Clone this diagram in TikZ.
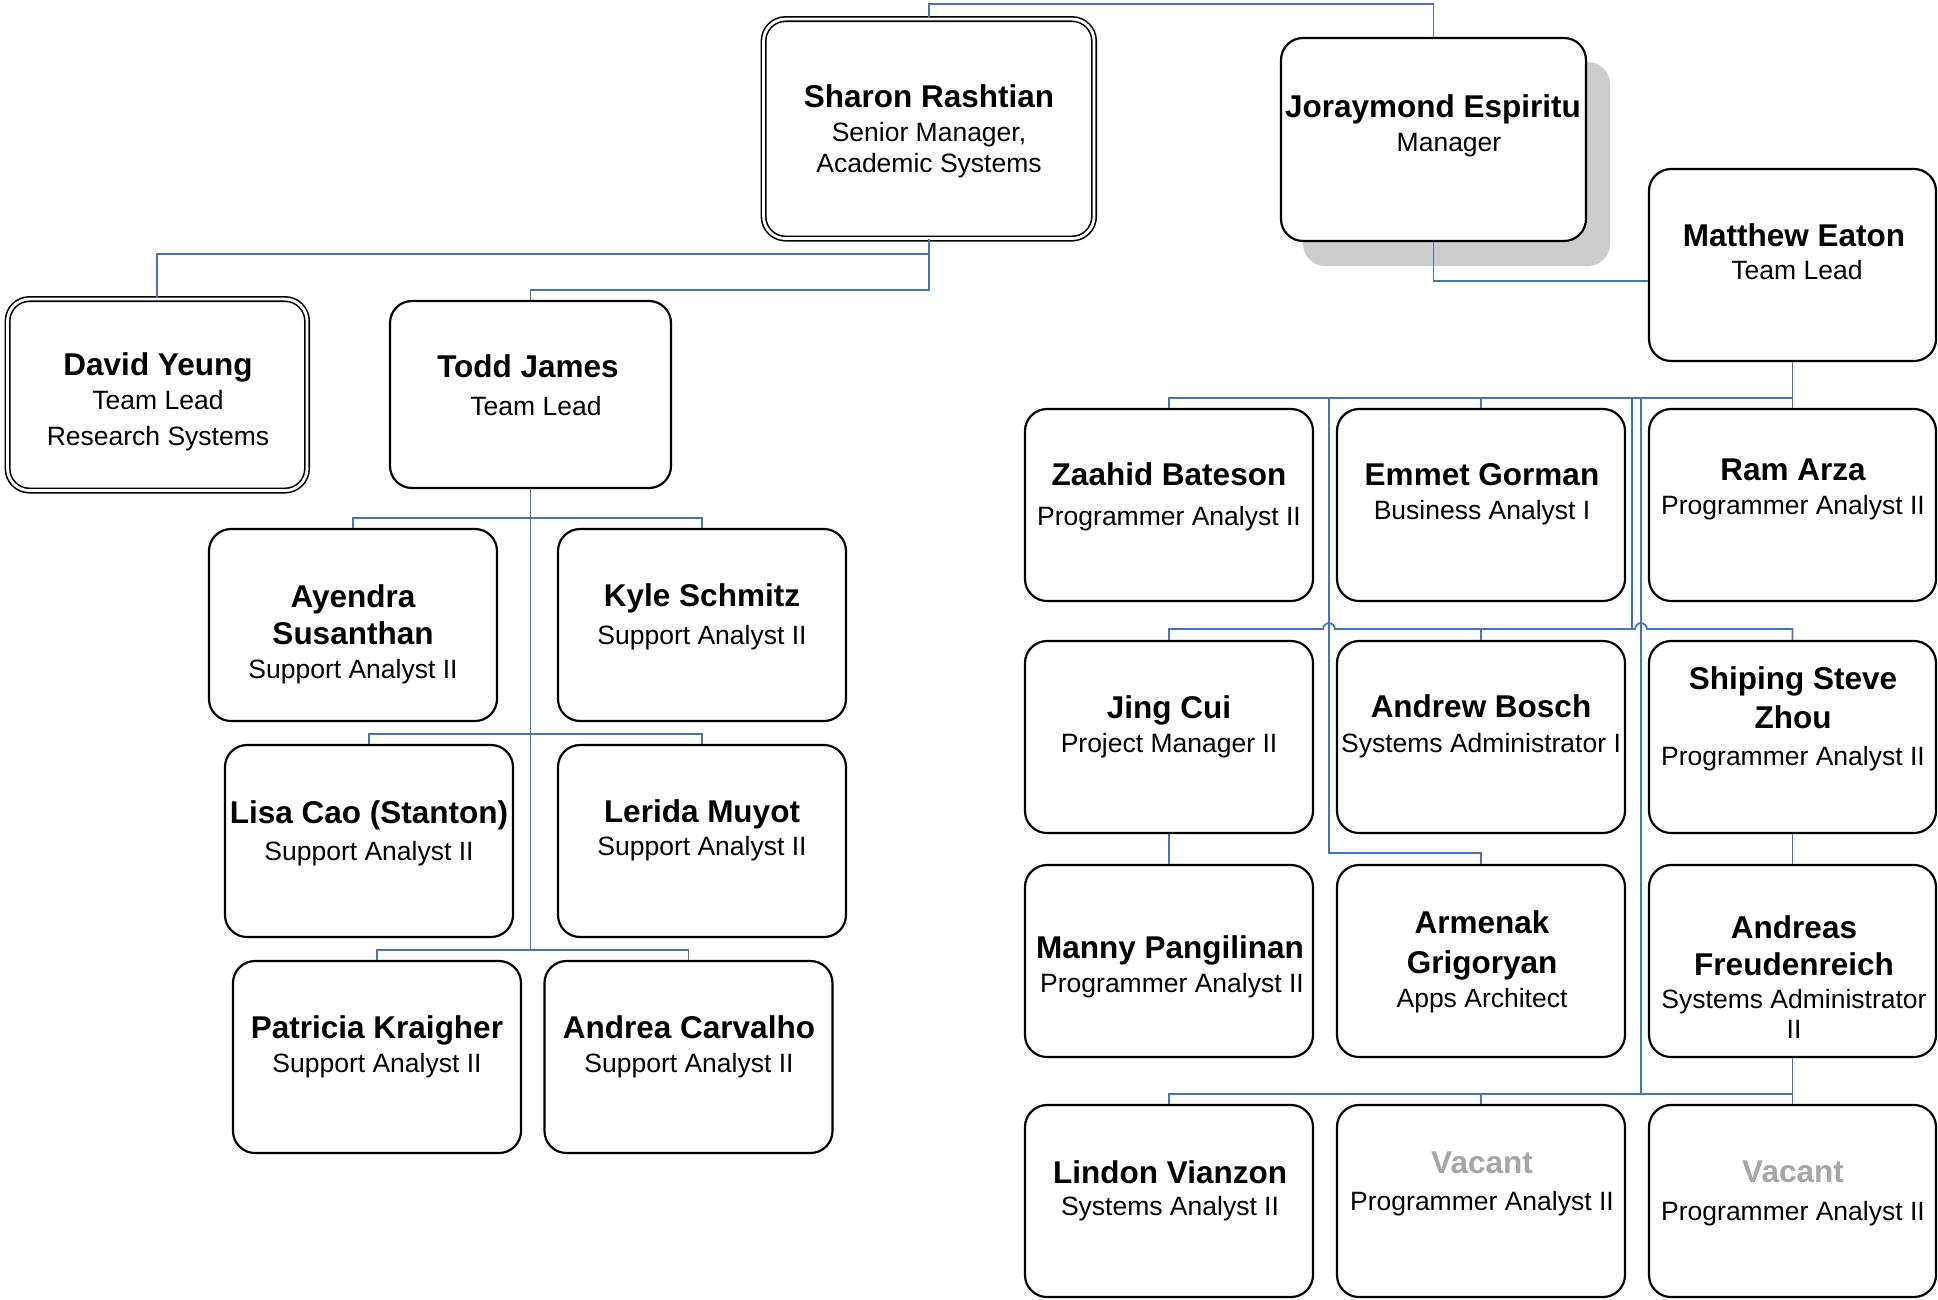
\documentclass[tikz,border=0pt]{standalone}
\usepackage{fontspec}
\setmainfont{Liberation Sans}
\definecolor{connblue}{HTML}{4472C4}
\definecolor{vacgray}{HTML}{A6A6A6}
\definecolor{shadowgray}{HTML}{CCCCCC}
\begin{document}
\begin{tikzpicture}[x=1pt,y=-1pt,
  box/.style={draw=black, line width=2.2pt, rounded corners=22pt, fill=white, inner sep=0pt, minimum width=288pt, minimum height=192pt},
  dbox/.style={box, double, double distance=2.8pt, line width=1.6pt},
  conn/.style={draw=connblue, line width=1.8pt},
  namef/.style={font=\fontsize{31.5}{36}\selectfont\bfseries, anchor=base, inner sep=0pt},
  titlef/.style={font=\fontsize{26.5}{32}\selectfont, anchor=base, inner sep=0pt},
  vacf/.style={namef, text=vacgray}]
\useasboundingbox (0,0) rectangle (1938,1299);

% shadow of Joraymond's box
\fill[shadowgray, rounded corners=22pt] (1303,62) rectangle (1610,266);

% boxes
\node[dbox, minimum width=330.5pt, minimum height=219.5pt] (sha) at (928.8,128.8) {};
\node[box, minimum width=305pt, minimum height=203pt] (jor) at (1433.5,139.5) {};
\node[box, minimum width=287pt] (mat) at (1792.5,265) {};
\node[dbox, minimum width=299.5pt, minimum height=191.5pt] (dav) at (157.3,394.8) {};
\node[box, minimum width=281pt, minimum height=187pt] (tod) at (530.5,394.5) {};
\node[box] (ay) at (353,625) {};
\node[box] (ky) at (702,625) {};
\node[box] (li) at (369,841) {};
\node[box] (le) at (702,841) {};
\node[box] (pa) at (377,1057) {};
\node[box] (anc) at (688.5,1057) {};
\node[box] (za) at (1169,505) {};
\node[box] (em) at (1481,505) {};
\node[box, minimum width=287pt] (ra) at (1792.5,505) {};
\node[box] (ji) at (1169,737) {};
\node[box] (ab) at (1481,737) {};
\node[box, minimum width=287pt] (sh) at (1792.5,737) {};
\node[box] (mp) at (1169,961) {};
\node[box] (ag) at (1481,961) {};
\node[box, minimum width=287pt] (af) at (1792.5,961) {};
\node[box] (lv) at (1169,1201) {};
\node[box] (va1) at (1481,1201) {};
\node[box, minimum width=287pt] (va2) at (1792.5,1201) {};

% connectors
\draw[conn] (sha.north) -- ++(0,-14) -| (jor.north);
\draw[conn] (sha.south) -- ++(0,14.5) -| (dav.north);
\draw[conn] (sha.south) -- ++(0,50.5) -| (tod.north);
\draw[conn] (jor.south) |- (mat.west |- 0,281);

\draw[conn] (tod.south) -- ++(0,29) -| (ay.north);
\draw[conn] (tod.south) -- ++(0,29) -| (ky.north);
\draw[conn] (tod.south) -- ++(0,245) -| (li.north);
\draw[conn] (tod.south) -- ++(0,245) -| (le.north);
\draw[conn] (tod.south) -- ++(0,461) -| (pa.north);
\draw[conn] (tod.south) -- ++(0,461) -| (anc.north);

\draw[conn] (mat.south) -- ++(0,36) -| (za.north);
\draw[conn] (mat.south) -- ++(0,36) -| (em.north);
\draw[conn] (mat.south) -- (ra.north);
\coordinate (vA) at (1329,397);
\coordinate (vB) at (1632,397);
\coordinate (vC) at (1641,397);
\draw[conn] (vA) -- (1329,853) -| (ag.north);
\draw[conn] (vB) -- (1632,629);
\draw[conn] (vC) -- (1641,1093);
\draw[conn] (ji.north) -- (1169,629) -- (1323,629)
  .. controls (1323,625.7) and (1326.3,623) .. (1329,623)
  .. controls (1331.7,623) and (1335,625.7) .. (1335,629)
  -- (1635,629)
  .. controls (1635,625.7) and (1638.3,623) .. (1641,623)
  .. controls (1643.7,623) and (1647,625.7) .. (1647,629)
  -| (sh.north);
\draw[conn] (ab.north) -- (ab.north |- 0,629);
\draw[conn] (ji.south) -- (mp.north);
\draw[conn] (sh.south) -- (af.north);
\draw[conn] (af.south) -- ++(0,36) -| (lv.north);
\draw[conn] (af.south) -- (va2.north);
\draw[conn] (va1.north) -- (va1.north |- 0,1093);

% texts
\node[namef] (sha-n) at (929,107) {Sharon Rashtian};
\node[titlef] (sha-t1) at (929,141) {Senior Manager,};
\node[titlef] (sha-t2) at (929,172) {Academic Systems};

\node[namef] (jor-n) at (1433,117) {Joraymond Espiritu};
\node[titlef] (jor-t) at (1449,151) {Manager};

\node[namef] (mat-n) at (1794,246) {Matthew Eaton};
\node[titlef] (mat-t) at (1797,279) {Team Lead};

\node[namef] (dav-n) at (158,375) {David Yeung};
\node[titlef] (dav-t1) at (158,409) {Team Lead};
\node[titlef] (dav-t2) at (158,445) {Research Systems};

\node[namef] (tod-n) at (528,377) {Todd James};
\node[titlef] (tod-t) at (536,415) {Team Lead};

\node[namef] (ay-n1) at (353,607) {Ayendra};
\node[namef] (ay-n2) at (353,644) {Susanthan};
\node[titlef] (ay-t) at (353,678) {Support Analyst II};

\node[namef] (ky-n) at (702,606) {Kyle Schmitz};
\node[titlef] (ky-t) at (702,644) {Support Analyst II};

\node[namef] (li-n) at (369,823) {Lisa Cao (Stanton)};
\node[titlef] (li-t) at (369,860) {Support Analyst II};

\node[namef] (le-n) at (702,822) {Lerida Muyot};
\node[titlef] (le-t) at (702,855) {Support Analyst II};

\node[namef] (pa-n) at (377,1038) {Patricia Kraigher};
\node[titlef] (pa-t) at (377,1072) {Support Analyst II};

\node[namef] (anc-n) at (689,1038) {Andrea Carvalho};
\node[titlef] (anc-t) at (689,1072) {Support Analyst II};

\node[namef] (za-n) at (1169,485) {Zaahid Bateson};
\node[titlef] (za-t) at (1169,525) {Programmer Analyst II};

\node[namef] (em-n) at (1482,485) {Emmet Gorman};
\node[titlef] (em-t) at (1482,519) {Business Analyst I};

\node[namef] (ra-n) at (1793,480) {Ram Arza};
\node[titlef] (ra-t) at (1793,514) {Programmer Analyst II};

\node[namef] (ji-n) at (1169,718) {Jing Cui};
\node[titlef] (ji-t) at (1169,752) {Project Manager II};

\node[namef] (ab-n) at (1481,717) {Andrew Bosch};
\node[titlef] (ab-t) at (1481,752) {Systems Administrator I};

\node[namef] (sh-n1) at (1793,689) {Shiping Steve};
\node[namef] (sh-n2) at (1793,728) {Zhou};
\node[titlef] (sh-t) at (1793,765) {Programmer Analyst II};

\node[namef] (mp-n) at (1170,958) {Manny Pangilinan};
\node[titlef] (mp-t) at (1172,992) {Programmer Analyst II};

\node[namef] (ag-n1) at (1482,933) {Armenak};
\node[namef] (ag-n2) at (1482,973) {Grigoryan};
\node[titlef] (ag-t) at (1482,1007) {Apps Architect};

\node[namef] (af-n1) at (1794,938) {Andreas};
\node[namef] (af-n2) at (1794,975) {Freudenreich};
\node[titlef] (af-t1) at (1794,1008) {Systems Administrator};
\node[titlef] (af-t2) at (1794,1038) {II};

\node[namef] (lv-n) at (1170,1183) {Lindon Vianzon};
\node[titlef] (lv-t) at (1170,1215) {Systems Analyst II};

\node[vacf] (va1-n) at (1482,1173) {Vacant};
\node[titlef] (va1-t) at (1482,1210) {Programmer Analyst II};

\node[vacf] (va2-n) at (1793,1182) {Vacant};
\node[titlef] (va2-t) at (1793,1220) {Programmer Analyst II};
\end{tikzpicture}
\end{document}
